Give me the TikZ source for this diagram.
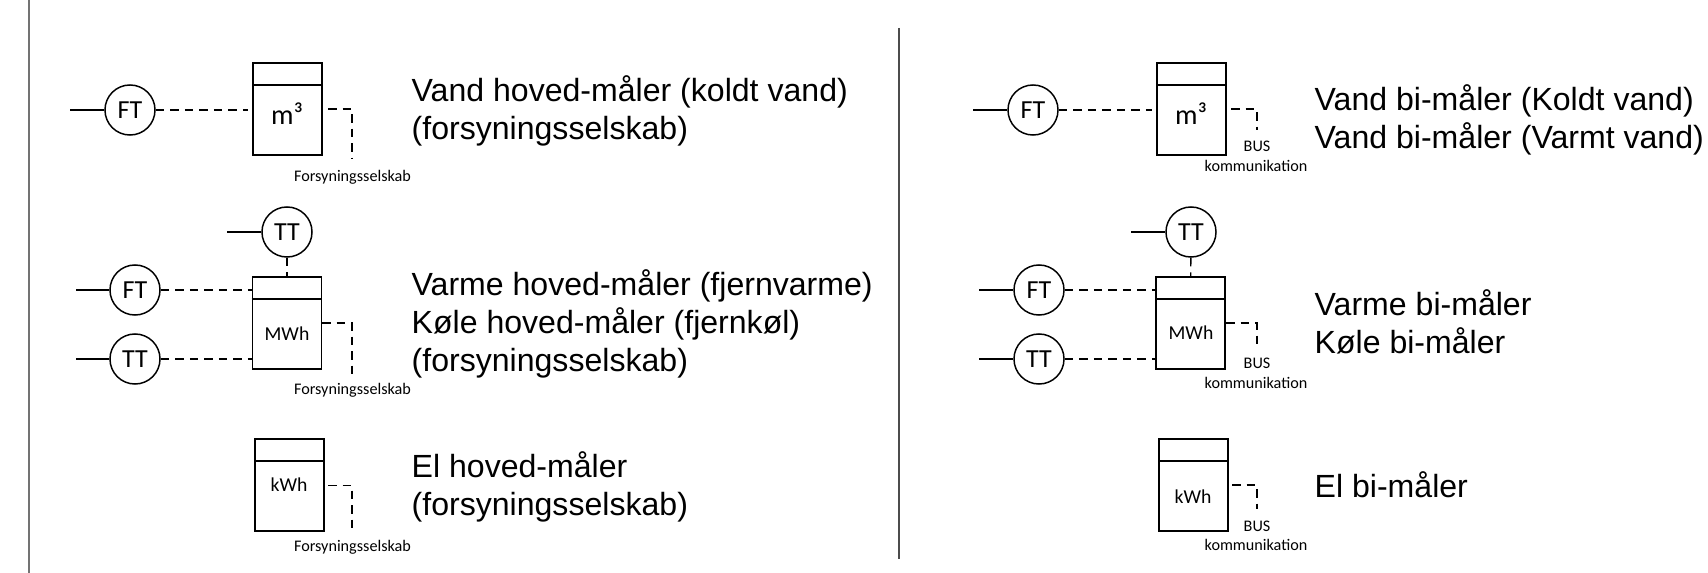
\documentclass[tikz,border=0pt]{standalone}
\usepackage{fontspec}
\setmainfont{Liberation Sans}
\newfontfamily\smallfont{Carlito}
\tikzset{
	probe/.style={draw, circle, line width=0.42pt, minimum size=0.5cm, inner sep=0pt, font=\smallfont\fontsize{7.4}{8}\selectfont},
	meter/.style={draw, rectangle, line width=0.5pt, minimum width=0.69cm, minimum height=0.92cm, inner sep=0pt},
	unitlabel/.style={inner sep=0pt, font=\smallfont\fontsize{5.6}{6}\selectfont},
	buslabel/.style={inner sep=0pt, font=\smallfont\fontsize{4.6}{5}\selectfont},
	desc/.style={anchor=west, align=left, inner sep=0pt, font=\fontsize{9.12}{10.8}\selectfont},
	wire/.style={line width=0.45pt},
	signal/.style={line width=0.38pt, dash pattern=on 0.85mm off 0.6mm},
}
\begin{document}
\begin{tikzpicture}[x=0.01cm, y=-0.01cm]
		\useasboundingbox (0, 0) rectangle (1708, 573);
		%%%%% START %%%%%
		
		\draw[line width=0.5pt, color=black!55] (29, 0) -- (29, 573);
		\draw[line width=0.35pt, color=black!70] (899, 28) -- (899, 559);
		
		%%%%% left, water %%%%%
		\node[probe] (ftA) at (130, 110) {FT};
		\node[meter] (boxA) at (287.5, 109) {};
		\node[unitlabel, font=\smallfont\fontsize{8}{9}\selectfont] (unitA) at (287, 114) {m³};
		\coordinate (lineA) at (70, 110);
		\coordinate (sigA) at (248, 110);
		\coordinate (busA1) at (328, 109);
		\coordinate (busA2) at (352, 109);
		\coordinate (busA3) at (352, 158);
		\draw[wire] (lineA) -- (ftA);
		\draw[signal] (ftA) -- (sigA);
		\draw[wire] ([yshift=-0.23cm]boxA.north west) -- ([yshift=-0.23cm]boxA.north east);
		\draw[signal] (busA1) -- (busA2) -- (busA3);
		\node[buslabel] (ownerA) at (352.5, 177.5) {Forsyningsselskab};
		\node[desc] (descA) at (411, 111) {Vand hoved-måler (koldt vand)\\(forsyningsselskab)};
		
		%%%%% left, heat %%%%%
		\node[probe] (ttB) at (287, 232) {TT};
		\node[probe] (ftB) at (135, 290) {FT};
		\node[probe] (tsB) at (135, 359) {TT};
		\node[meter] (boxB) at (287, 323) {};
		\node[unitlabel] (unitB) at (287, 334) {MWh};
		\coordinate (lineB1) at (227, 232);
		\coordinate (lineB2) at (76, 290);
		\coordinate (lineB3) at (76, 359);
		\coordinate (sigB1) at (253, 290);
		\coordinate (sigB2) at (253, 359);
		\coordinate (busB1) at (322, 323);
		\coordinate (busB2) at (352, 323);
		\coordinate (busB3) at (352, 378);
		\draw[wire] (lineB1) -- (ttB);
		\draw[wire] (lineB2) -- (ftB);
		\draw[wire] (lineB3) -- (tsB);
		\draw[signal] (ttB) -- (boxB);
		\draw[signal] (ftB) -- (sigB1);
		\draw[signal] (tsB) -- (sigB2);
		\draw[wire] ([yshift=-0.23cm]boxB.north west) -- ([yshift=-0.23cm]boxB.north east);
		\draw[signal] (busB1) -- (busB2) -- (busB3);
		\node[buslabel] (ownerB) at (352.5, 390.5) {Forsyningsselskab};
		\node[desc] (descB) at (411, 323.5) {Varme hoved-måler (fjernvarme)\\Køle hoved-måler (fjernkøl)\\(forsyningsselskab)};
		
		%%%%% left, power %%%%%
		\node[meter] (boxC) at (289.5, 485) {};
		\node[unitlabel] (unitC) at (289, 485) {kWh};
		\coordinate (busC1) at (328, 485.5);
		\coordinate (busC2) at (352, 485.5);
		\coordinate (busC3) at (352, 533);
		\draw[wire] ([yshift=-0.23cm]boxC.north west) -- ([yshift=-0.23cm]boxC.north east);
		\draw[signal] (busC1) -- (busC2) -- (busC3);
		\node[buslabel] (ownerC) at (352.5, 547.5) {Forsyningsselskab};
		\node[desc] (descC) at (411, 487) {El hoved-måler\\(forsyningsselskab)};
		
		%%%%% right, water %%%%%
		\node[probe] (ftD) at (1033, 110) {FT};
		\node[meter] (boxD) at (1191.5, 109) {};
		\node[unitlabel, font=\smallfont\fontsize{8}{9}\selectfont] (unitD) at (1191, 114) {m³};
		\coordinate (lineD) at (973, 110);
		\coordinate (sigD) at (1152, 110);
		\coordinate (busD1) at (1231, 109);
		\coordinate (busD2) at (1257, 109);
		\coordinate (busD3) at (1257, 130);
		\draw[wire] (lineD) -- (ftD);
		\draw[signal] (ftD) -- (sigD);
		\draw[wire] ([yshift=-0.23cm]boxD.north west) -- ([yshift=-0.23cm]boxD.north east);
		\draw[signal] (busD1) -- (busD2) -- (busD3);
		\node[buslabel] (busLabelD) at (1257, 146) {BUS};
		\node[buslabel] (commD) at (1256, 166) {kommunikation};
		\node[desc] (descD) at (1314, 119.5) {Vand bi-måler (Koldt vand)\\Vand bi-måler (Varmt vand)};
		
		%%%%% right, heat %%%%%
		\node[probe] (ttE) at (1191, 232) {TT};
		\node[probe] (ftE) at (1039, 290) {FT};
		\node[probe] (tsE) at (1039, 359) {TT};
		\node[meter] (boxE) at (1190.5, 323) {};
		\node[unitlabel] (unitE) at (1191, 333) {MWh};
		\coordinate (lineE1) at (1131, 232);
		\coordinate (lineE2) at (979, 290);
		\coordinate (lineE3) at (979, 359);
		\coordinate (sigE1) at (1156, 290);
		\coordinate (sigE2) at (1156, 359);
		\coordinate (busE1) at (1226, 323);
		\coordinate (busE2) at (1257, 323);
		\coordinate (busE3) at (1257, 347);
		\draw[wire] (lineE1) -- (ttE);
		\draw[wire] (lineE2) -- (ftE);
		\draw[wire] (lineE3) -- (tsE);
		\draw[signal] (ttE) -- (boxE);
		\draw[signal] (ftE) -- (sigE1);
		\draw[signal] (tsE) -- (sigE2);
		\draw[wire] ([yshift=-0.23cm]boxE.north west) -- ([yshift=-0.23cm]boxE.north east);
		\draw[signal] (busE1) -- (busE2) -- (busE3);
		\node[buslabel] (busLabelE) at (1257, 363) {BUS};
		\node[buslabel] (commE) at (1256, 382.5) {kommunikation};
		\node[desc] (descE) at (1314, 322) {Varme bi-måler\\Køle bi-måler};
		
		%%%%% right, power %%%%%
		\node[meter] (boxF) at (1193.5, 485) {};
		\node[unitlabel] (unitF) at (1193, 496.5) {kWh};
		\coordinate (busF1) at (1232, 485);
		\coordinate (busF2) at (1257, 485);
		\coordinate (busF3) at (1257, 509);
		\draw[wire] ([yshift=-0.23cm]boxF.north west) -- ([yshift=-0.23cm]boxF.north east);
		\draw[signal] (busF1) -- (busF2) -- (busF3);
		\node[buslabel] (busLabelF) at (1257, 526) {BUS};
		\node[buslabel] (commF) at (1256, 545) {kommunikation};
		\node[desc] (descF) at (1314, 485) {El bi-måler};
		
		%%%%% END %%%%%
	\end{tikzpicture}
\end{document}
